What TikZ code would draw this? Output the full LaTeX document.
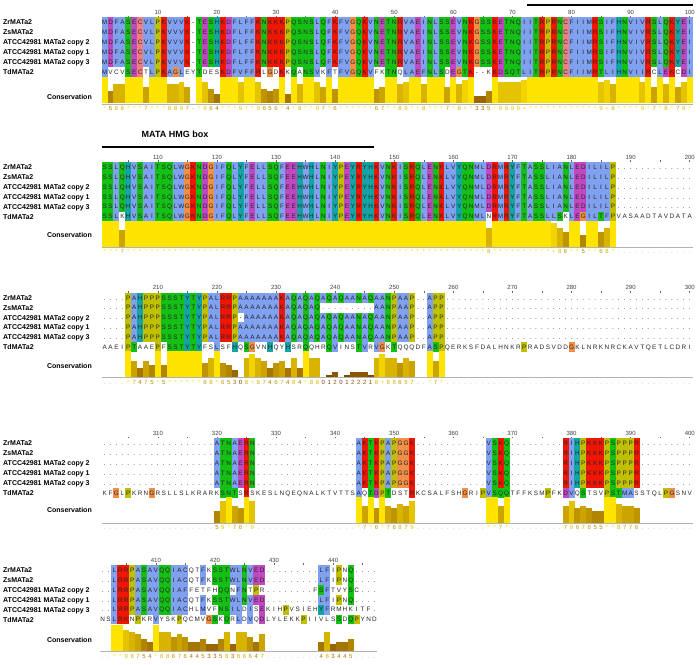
\documentclass[tikz,border=0pt]{standalone}
\usepackage{fontspec}
\setmainfont{Liberation Sans}
\definecolor{clxb}{RGB}{128,160,240}
\definecolor{clxr}{RGB}{240,21,5}
\definecolor{clxg}{RGB}{21,192,21}
\definecolor{clxm}{RGB}{192,72,192}
\definecolor{clxc}{RGB}{21,164,164}
\definecolor{clxo}{RGB}{240,144,72}
\definecolor{clxy}{RGB}{192,192,0}
\definecolor{clxp}{RGB}{240,128,128}
\definecolor{consHi}{RGB}{255,228,0}
\definecolor{consLo}{RGB}{115,55,0}
\definecolor{consDot}{RGB}{195,170,110}
\newcount\colcnt
\def\setdc#1#2{\expandafter\def\csname dc#1\endcsname{#2}}
\setdc Ab\setdc Ib\setdc Lb\setdc Mb\setdc Fb\setdc Wb\setdc Vb\setdc Cp
\setdc Kr\setdc Rr\setdc Em\setdc Dm\setdc Ng\setdc Qg\setdc Sg\setdc Tg
\setdc Hc\setdc Yc\setdc Go\setdc Py
\setdc aw\setdc bw\setdc cw\setdc dw\setdc ew\setdc fw\setdc gw\setdc hw
\setdc iw\setdc kw\setdc lw\setdc mw\setdc nw\setdc pw\setdc qw\setdc rw
\setdc sw\setdc tw\setdc vw\setdc ww\setdc yw\setdc .w\setdc -w
% sequence row parser
\def\seqparse#1{\ifx\relax#1\let\seqnext\relax\else\ifx*#1\let\seqnext\seqover\else\def\seqnext{\seqnormal#1}\fi\fi\seqnext}
\def\seqover#1#2{\seqcell{#1}{#2}\seqparse}
\def\seqnormal#1{\edef\tmpc{\csname dc#1\endcsname}\expandafter\seqcell\expandafter{\tmpc}{#1}\seqparse}
\def\seqcell#1#2{%
  \global\advance\colcnt by 1
  \pgfmathsetmacro\rcx{\blkX+(\the\colcnt-0.5)*5.91}%
  \if w#1\else\fill[clx#1] (\rcx-2.98,\rowy-4.97) rectangle (\rcx+2.98,\rowy+4.97);\fi
  \node[res] at (\rcx,\rowy+2.35) {\uppercase{#2}};}
\def\seqrow#1#2{\pgfmathsetmacro\rowy{\blkY+#1*9.9}\global\colcnt=0 \seqparse#2\relax}
% conservation parser
\def\consparse#1{\ifx\relax#1\let\consnext\relax\else\def\consnext{\conscell#1}\fi\consnext}
\def\conscell#1{%
  \global\advance\colcnt by 1
  \pgfmathsetmacro\rcx{\blkX+(\the\colcnt-0.5)*5.91}%
  \ifx*#1\def\cscore{11}\def\ctxt{*}%
  \else\ifx+#1\def\cscore{10}\def\ctxt{+}%
  \else\ifx.#1\def\cscore{-1}\def\ctxt{.}%
  \else\ifx-#1\def\cscore{-1}\def\ctxt{-}%
  \else\def\cscore{#1}\def\ctxt{#1}\fi\fi\fi\fi
  \ifnum\cscore<0
    \node[cdig,text=consDot] at (\rcx,\cbot+7) {\ctxt};%
  \else
    \pgfmathtruncatemacro\cpct{\cscore*100/11}%
    \colorlet{cc}{consHi!\cpct!consLo}%
    \ifnum\cscore>0 \fill[cc] (\rcx-2.98,\cbot) rectangle (\rcx+2.98,\cbot-\cscore*26/11);\fi
    \node[cdig,text=cc] at (\rcx,\cbot+7) {\ctxt};%
  \fi
  \consparse}
\def\consrow#1#2#3{\pgfmathsetmacro\cbot{#1}\global\colcnt=0 \consparse#2\relax
  \draw[axisln] (\blkX,\cbot+0.6) -- (\blkX+\the\colcnt*5.91,\cbot+0.6);
  \node[conslbl] at (92,#3) {Conservation};}
\newcommand\scalemarks[2]{%
  \foreach \j in {5,10,...,#2}{%
    \pgfmathsetmacro\rcx{\blkX+(\j-0.5)*5.91}%
    \draw[tickst] (\rcx,\blkY-6.8) -- (\rcx,\blkY-5);%
    \pgfmathtruncatemacro\rem{mod(\j,10)}%
    \ifnum\rem=0 \pgfmathtruncatemacro\lab{#1+\j}\node[numst] at (\rcx,\blkY-8) {\lab};\fi
  }}
\newcommand\rowlabels{%
  \foreach \t [count=\k from 0] in {ZrMATa2,ZsMATa2,ATCC42981 MATa2 copy 2,ATCC42981 MATa2 copy 1,ATCC42981 MATa2 copy 3,TdMATa2}{%
    \node[lbl] at (3,\blkY+\k*9.9+2.5) {\t};}}
\begin{document}
\begin{tikzpicture}[x=1pt,y=-1pt,
  res/.style={font=\fontsize{6.4}{7}\selectfont, anchor=base, inner sep=0pt, text=black!85},
  lbl/.style={font=\fontsize{7}{8}\selectfont\bfseries, anchor=base west, inner sep=0pt},
  conslbl/.style={font=\fontsize{7}{8}\selectfont\bfseries, anchor=east, inner sep=0pt},
  numst/.style={font=\fontsize{6}{7}\selectfont, anchor=base, inner sep=0pt, text=black!75},
  tickst/.style={draw=black!60, line width=0.6pt},
  cdig/.style={font=\fontsize{6}{7}\selectfont, anchor=base, inner sep=0pt},
  axisln/.style={draw=black!30, line width=0.8pt},
  hmgline/.style={draw=black, line width=1.8pt},
  hmglbl/.style={font=\fontsize{9}{10}\selectfont\bfseries, inner sep=0pt}]
\fill[white] (0,0) rectangle (700,664);
\path[use as bounding box] (0,0) rectangle (700,664);
% ---------------- Block 1
\def\blkX{101.7}\def\blkY{22.3}
\coordinate (h1a) at (101.7+72*5.91,5);
\coordinate (h1b) at (101.7+100*5.91,5);
\draw[hmgline] (h1a) -- (h1b);
\scalemarks{0}{100}
\seqrow{0}{MDFASECVLP KVVVK-TESH KDFLFFKNKK KPQSNSLQFK FVGQKVNETN RVAEINLSSE VNKGSSKETN QIITRPRNCF IIMRSIFHNV IVRSLQKYEI}
\seqrow{1}{MDFASECVLP KVVVK-TESH KDFLFFKNKK KPQSNSLQFK FVGQKVNETN RVAEINLSSE VNKGSSKETN QIITRPRNCF IIMRSIFHNV IVRSLQKYEI}
\seqrow{2}{MDFASECVLP KVVVK-TESH KDFLFFKNKK KPQSNSLQFK FVGQKVNETN RVAEINLSSE VNKGSSKETN QIITRPRNCF IIMRSIFHNV IVRSLQKYEI}
\seqrow{3}{MDFASECVLP KVVVK-TESH KDFLFFKNKK KPQSNSLQFK FVGQKVNETN RVAEINLSSE VNKGSSKETN QIITRPRNCF IIMRSIFHNV IVRSLQKYEI}
\seqrow{4}{MDFASECVLP KVVVK-TESH KDFLFFKNKK KPQSNSLQFK FVGQKVNETN RVAEINLSSE VNKGSSKETN QIITRPRNCF IIMRSIFHNV IVRSLQKYEI}
\seqrow{5}{MvcvSECtLP KAGLeyTdes KDFVFFRlGd KkQaNSVkFt FVGQKVfkTN qLAEFNLSdE GTK--kKDSQ TLITRPRNCF IIMRTLIHNV IIRcLEKcDI}
\rowlabels
\consrow{103.3}{*588***7** *8897-*964 ***9**9656 *4*8**97*6 ******67** 89**8***7* 8+*335*999 9+******** ****9+8*** *9*7*8*79*}{97.3}
% ---------------- Block 2
\def\blkX{101.7}\def\blkY{167}
\node[hmglbl] (hmg) at (175,134.7) {MATA HMG box};
\coordinate (h2a) at (101.7,147);
\coordinate (h2b) at (101.7+46*5.91,147);
\draw[hmgline] (h2a) -- (h2b);
\scalemarks{100}{100}
\seqrow{0}{SSLQHVSAIT SQLWGKNDGI FQLYFELLSQ FEEHWHLNIY PEYRYHKVNK ISRQLENKLV YQNMLDRMRY FTASSLIANL EDILILP... ..........}
\seqrow{1}{SSLQHVSAIT SQLWGKNDGI FQLYFELLSQ FEEHWHLNIY PEYRYHKVNK ISRQLENKLV YQNMLDRMRY FTASSLIANL EDILILP... ..........}
\seqrow{2}{SSLQHVSAIT SQLWGKNDGI FQLYFELLSQ FEEHWHLNIY PEYRYHKVNK ISRQLENKLV YQNMLDRMRY FTASSLIANL EDILILP... ..........}
\seqrow{3}{SSLQHVSAIT SQLWGKNDGI FQLYFELLSQ FEEHWHLNIY PEYRYHKVNK ISRQLENKLV YQNMLDRMRY FTASSLIANL EDILILP... ..........}
\seqrow{4}{SSLQHVSAIT SQLWGKNDGI FQLYFELLSQ FEEHWHLNIY PEYRYHKVNK ISRQLENKLV YQNMLDRMRY FTASSLIANL EDILILP... ..........}
\seqrow{5}{SSLkHVSAIT SQLWGKNDGI FQLYFELLSQ FEEHWHLNIY PEYRYHKVNK ISRQLENKLV YQNMLnRMRY FTASSLLSkL EGILTFPvas aadtavdata}
\rowlabels
\consrow{246.5}{***7****** ********** ********** ********** ********** ********** *****8**** ******+86* *5**68*... ..........}{234.7}
% ---------------- Block 3
\def\blkX{101.7}\def\blkY{297.7}
\scalemarks{200}{100}
\seqrow{0}{....PAHPPP SSSTYTYPAL RRPAAAAAAA KAQAQAQAQA QAANAQAANP AAP..APP.. .......... .......... .......... ..........}
\seqrow{1}{....PAHPPP SSSTYTYPAL RRPAAAAAAA KAQAQAQ... ......AANP AAP..APP.. .......... .......... .......... ..........}
\seqrow{2}{....PAHPPP SSSTYTYPAL RRP-AAAAAA KAQAQAQAQA QAANAQAANP AAP..APP.. .......... .......... .......... ..........}
\seqrow{3}{....PAHPPP SSSTYTYPAL RRPAAAAAAA KAQAQAQAQA QAANAQAANP AAP..APP.. .......... .......... .......... ..........}
\seqrow{4}{....PAHPPP SSSTYTYPAL RRPAAAAAAA KAQAQAQAQA QAANAQAANP AAP..APP.. .......... .......... .......... ..........}
\seqrow{5}{aaeiPTaaeP fSSTYTYfsL sfHqSGvnHq yHsrQqhrQV insTVrVGkT qqqdfASPqe rksfdalhnk rPradsvddG klnrknrcka vtqetlcdri}
\rowlabels
\consrow{377.2}{....*7475* 5******68* 65308+8746 7484*88012 0122218+88 687..*7*.. .......... .......... .......... ..........}{365.7}
% ---------------- Block 4
\def\blkX{101.7}\def\blkY{443.3}
\scalemarks{300}{100}
\seqrow{0}{.......... .........A TNAERN.... .......... ...AKTKPAP GGK....... .....VSKQ. ........RI HPKKKPSPPP R.........}
\seqrow{1}{.......... .........A TNAERN.... .......... ...AKTKPAP GGK....... .....VSKQ. ........RI HPKKKPSPPP R.........}
\seqrow{2}{.......... .........A TNAERN.... .......... ...AKTKPAP GGK....... .....VSKQ. ........RI HPKKKPSPPP R.........}
\seqrow{3}{.......... .........A TNAERN.... .......... ...AKTKPAP GGK....... .....VSKQ. ........RI HPKKKPSPPP R.........}
\seqrow{4}{.......... .........A TNAERN.... .......... ...AKTKPAP GGK....... .....VSKQ. ........RI HPKKKPSPPP R.........}
\seqrow{5}{kfGlPkrnGr sllslkrark SNTsRskesl nqeqnalktv ttsAqTDPTd stRkcsalfs hGriPVSQQt ffksmPfkDV qStsvPSTMA sstqlPGsnv}
\rowlabels
\consrow{522.5}{.......... .........5 9*76*9.... .......... ...*7*6*76 879....... .....**7*. ........79 67655**877 6.........}{510}
% ---------------- Block 5
\def\blkX{99.7}\def\blkY{570}
\scalemarks{400}{45}
\seqrow{0}{..LRRPASAV QQIA*bCqtFkS STWLNVED.. .......LFi PnQ....}
\seqrow{1}{..LRRPASAV QQIA*bCqtFkS STWLNVED.. .......LFi PnQ....}
\seqrow{2}{..LRRPASAV QQIAFfetfh QQnFNtPr.. ......fSFt vySc...}
\seqrow{3}{..LRRPASAV QQIA*bCqtFkS STWLNVED.. .......LFi PnQ....}
\seqrow{4}{..LRRPASAV QQIA*bChlMvf NSILdIsEki hPvsiehYFr mhkitf.}
\seqrow{5}{nsLRKnPkrV yskPqcmvGS kQrLdVqDly lekkPiivls SdQPynd}
\rowlabels
\consrow{651}{..**98754* 8867644533 58388647.. .......483 445....}{640}
\end{tikzpicture}
\end{document}
